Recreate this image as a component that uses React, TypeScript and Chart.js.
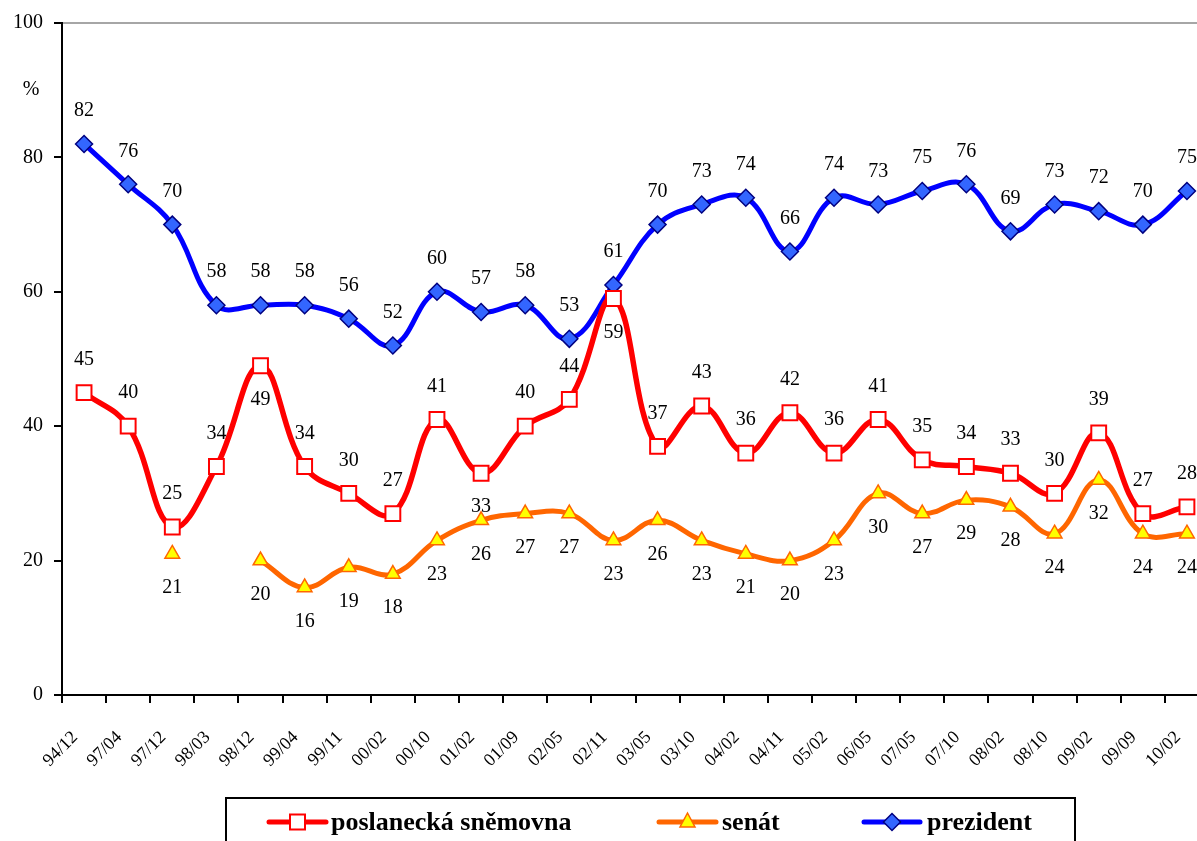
import React, { useEffect, useRef } from 'react';
import { Chart, registerables } from 'chart.js';

Chart.register(...registerables);

const categories = ['94/12', '97/04', '97/12', '98/03', '98/12', '99/04', '99/11', '00/02', '00/10', '01/02', '01/09', '02/05', '02/11', '03/05', '03/10', '04/02', '04/11', '05/02', '06/05', '07/05', '07/10', '08/02', '08/10', '09/02', '09/09', '10/02'];
const poslanecka = [45, 40, 25, 34, 49, 34, 30, 27, 41, 33, 40, 44, 59, 37, 43, 36, 42, 36, 41, 35, 34, 33, 30, 39, 27, 28];
const senat = [null, null, 21, null, 20, 16, 19, 18, 23, 26, 27, 27, 23, 26, 23, 21, 20, 23, 30, 27, 29, 28, 24, 32, 24, 24];
const prezident = [82, 76, 70, 58, 58, 58, 56, 52, 60, 57, 58, 53, 61, 70, 73, 74, 66, 74, 73, 75, 76, 69, 73, 72, 70, 75];
const yTicks = [0, 20, 40, 60, 80, 100];
const seriesNames = ['poslanecká sněmovna', 'senát', 'prezident'];
// label side per point: a = above, b = below
const poslaneckaSides = ['a', 'a', 'a', 'a', 'b', 'a', 'a', 'a', 'a', 'b', 'a', 'a', 'b', 'a', 'a', 'a', 'a', 'a', 'a', 'a', 'a', 'a', 'a', 'a', 'a', 'a'];
const senatSides = categories.map(() => 'b');
const prezidentSides = categories.map(() => 'a');
const labelSides = [poslaneckaSides, senatSides, prezidentSides];

const SERIF = '"Liberation Serif", "Times New Roman", serif';

const RED = '#ff0000';
const ORANGE = '#ff6600';
const BLUE = '#0000ff';

const valueLabels = {
  id: 'valueLabels',
  afterDatasetsDraw(chart: any) {
    const ctx = chart.ctx;
    ctx.save();
    ctx.font = '20px ' + SERIF;
    ctx.fillStyle = '#000';
    ctx.textAlign = 'center';
    ctx.textBaseline = 'middle';
    chart.data.datasets.forEach((ds: any, i: number) => {
      const meta = chart.getDatasetMeta(i);
      const sides = labelSides[i];
      meta.data.forEach((pt: any, j: number) => {
        const v = ds.data[j];
        if (v == null) return;
        const dy = sides[j] === 'b' ? 34 : -33;
        ctx.fillText(String(v), pt.x, pt.y + dy);
      });
    });
    ctx.restore();
  },
};

function drawMarker(ctx: CanvasRenderingContext2D, kind: string, x: number, y: number) {
  ctx.save();
  ctx.beginPath();
  if (kind === 'rect') {
    ctx.rect(x - 7.5, y - 7.5, 15, 15);
    ctx.fillStyle = '#fff';
    ctx.strokeStyle = RED;
    ctx.lineWidth = 2;
  } else if (kind === 'triangle') {
    ctx.moveTo(x, y - 9);
    ctx.lineTo(x + 7.5, y + 5);
    ctx.lineTo(x - 7.5, y + 5);
    ctx.closePath();
    ctx.fillStyle = '#ffff00';
    ctx.strokeStyle = ORANGE;
    ctx.lineWidth = 1.5;
  } else {
    ctx.moveTo(x, y - 8.5);
    ctx.lineTo(x + 8.5, y);
    ctx.lineTo(x, y + 8.5);
    ctx.lineTo(x - 8.5, y);
    ctx.closePath();
    ctx.fillStyle = '#3366ff';
    ctx.strokeStyle = '#000080';
    ctx.lineWidth = 1.5;
  }
  ctx.fill();
  ctx.stroke();
  ctx.restore();
}

const legendBox = {
  id: 'legendBox',
  afterDraw(chart: any) {
    const ctx = chart.ctx as CanvasRenderingContext2D;
    ctx.save();
    ctx.strokeStyle = '#000';
    ctx.lineWidth = 2;
    ctx.strokeRect(226, 798, 849, 80);
    const y = 822;
    const entries = [
      { x1: 269, x2: 326, color: RED, kind: 'rect', tx: 331, text: seriesNames[0] },
      { x1: 659, x2: 716, color: ORANGE, kind: 'triangle', tx: 722, text: seriesNames[1] },
      { x1: 864, x2: 920, color: BLUE, kind: 'diamond', tx: 927, text: seriesNames[2] },
    ];
    ctx.font = 'bold 26px ' + SERIF;
    ctx.textBaseline = 'middle';
    ctx.textAlign = 'left';
    entries.forEach((e) => {
      ctx.beginPath();
      ctx.strokeStyle = e.color;
      ctx.lineWidth = 5;
      ctx.lineCap = 'round';
      ctx.moveTo(e.x1, y);
      ctx.lineTo(e.x2, y);
      ctx.stroke();
      drawMarker(ctx, e.kind, (e.x1 + e.x2) / 2, y);
      ctx.fillStyle = '#000';
      ctx.fillText(e.text, e.tx, y + 1);
    });
    // percent sign
    ctx.font = '20px ' + SERIF;
    ctx.textAlign = 'center';
    ctx.fillText('%', 31, 90);
    ctx.restore();
  },
};

export default function App() {
  const canvasRef = useRef<HTMLCanvasElement | null>(null);

  useEffect(() => {
    document.body.style.margin = '0';
    const canvas = canvasRef.current;
    if (!canvas) return;
    const chart = new Chart(canvas, {
      type: 'line',
      data: {
        labels: categories,
        datasets: [
          {
            label: seriesNames[0],
            data: poslanecka,
            borderColor: RED,
            borderWidth: 5.5,
            tension: 0.4,
            pointStyle: 'rect',
            pointRadius: 10.5,
            pointHoverRadius: 10.5,
            pointBackgroundColor: '#ffffff',
            pointBorderColor: RED,
            pointBorderWidth: 2,
            fill: false,
          },
          {
            label: seriesNames[1],
            data: senat,
            borderColor: ORANGE,
            borderWidth: 5,
            tension: 0.4,
            spanGaps: false,
            pointStyle: 'triangle',
            pointRadius: 8.5,
            pointHoverRadius: 8.5,
            pointBackgroundColor: '#ffff00',
            pointBorderColor: ORANGE,
            pointBorderWidth: 1.5,
            fill: false,
          },
          {
            label: seriesNames[2],
            data: prezident,
            borderColor: BLUE,
            borderWidth: 5,
            tension: 0.4,
            pointStyle: 'rectRot',
            pointRadius: 8.5,
            pointHoverRadius: 8.5,
            pointBackgroundColor: '#3366ff',
            pointBorderColor: '#000080',
            pointBorderWidth: 1.5,
            fill: false,
          },
        ],
      },
      options: {
        responsive: false,
        animation: false,
        events: [],
        layout: { padding: { left: 0, top: 23, right: 31, bottom: 0 } },
        plugins: {
          legend: { display: false },
          title: { display: false },
          tooltip: { enabled: false },
        },
        scales: {
          x: {
            type: 'category',
            offset: true,
            afterFit: (scale: any) => {
              scale.height = 146;
            },
            grid: {
              offset: true,
              drawOnChartArea: false,
              drawTicks: true,
              tickLength: 8,
              tickColor: '#000',
              tickWidth: 2,
              lineWidth: 2,
            },
            border: { display: true, color: '#000', width: 2 },
            ticks: {
              autoSkip: false,
              minRotation: 45,
              maxRotation: 45,
              padding: 24,
              labelOffset: -9,
              color: '#000',
              font: { family: SERIF, size: 18 },
            },
          },
          y: {
            min: 0,
            max: 100,
            afterFit: (scale: any) => {
              scale.width = 62;
            },
            afterBuildTicks: (scale: any) => {
              scale.ticks = yTicks.map((v) => ({ value: v }));
            },
            grid: {
              drawTicks: true,
              tickLength: 8,
              tickColor: '#000',
              tickWidth: 2,
              lineWidth: 2,
              color: (ctx: any) => (ctx.tick && ctx.tick.value === 100 ? '#a6a6a6' : 'rgba(0,0,0,0)'),
            },
            border: { display: true, color: '#000', width: 2 },
            ticks: {
              padding: 11,
              color: '#000',
              font: { family: SERIF, size: 20 },
            },
          },
        },
      },
      plugins: [valueLabels, legendBox],
    });
    return () => chart.destroy();
  }, []);

  return (
    <div style={{ width: 1197, height: 841, overflow: 'hidden', position: 'relative', background: '#fff' }}>
      <canvas ref={canvasRef} width={1240} height={841} style={{ display: 'block', width: 1240, height: 841 }} />
    </div>
  );
}
